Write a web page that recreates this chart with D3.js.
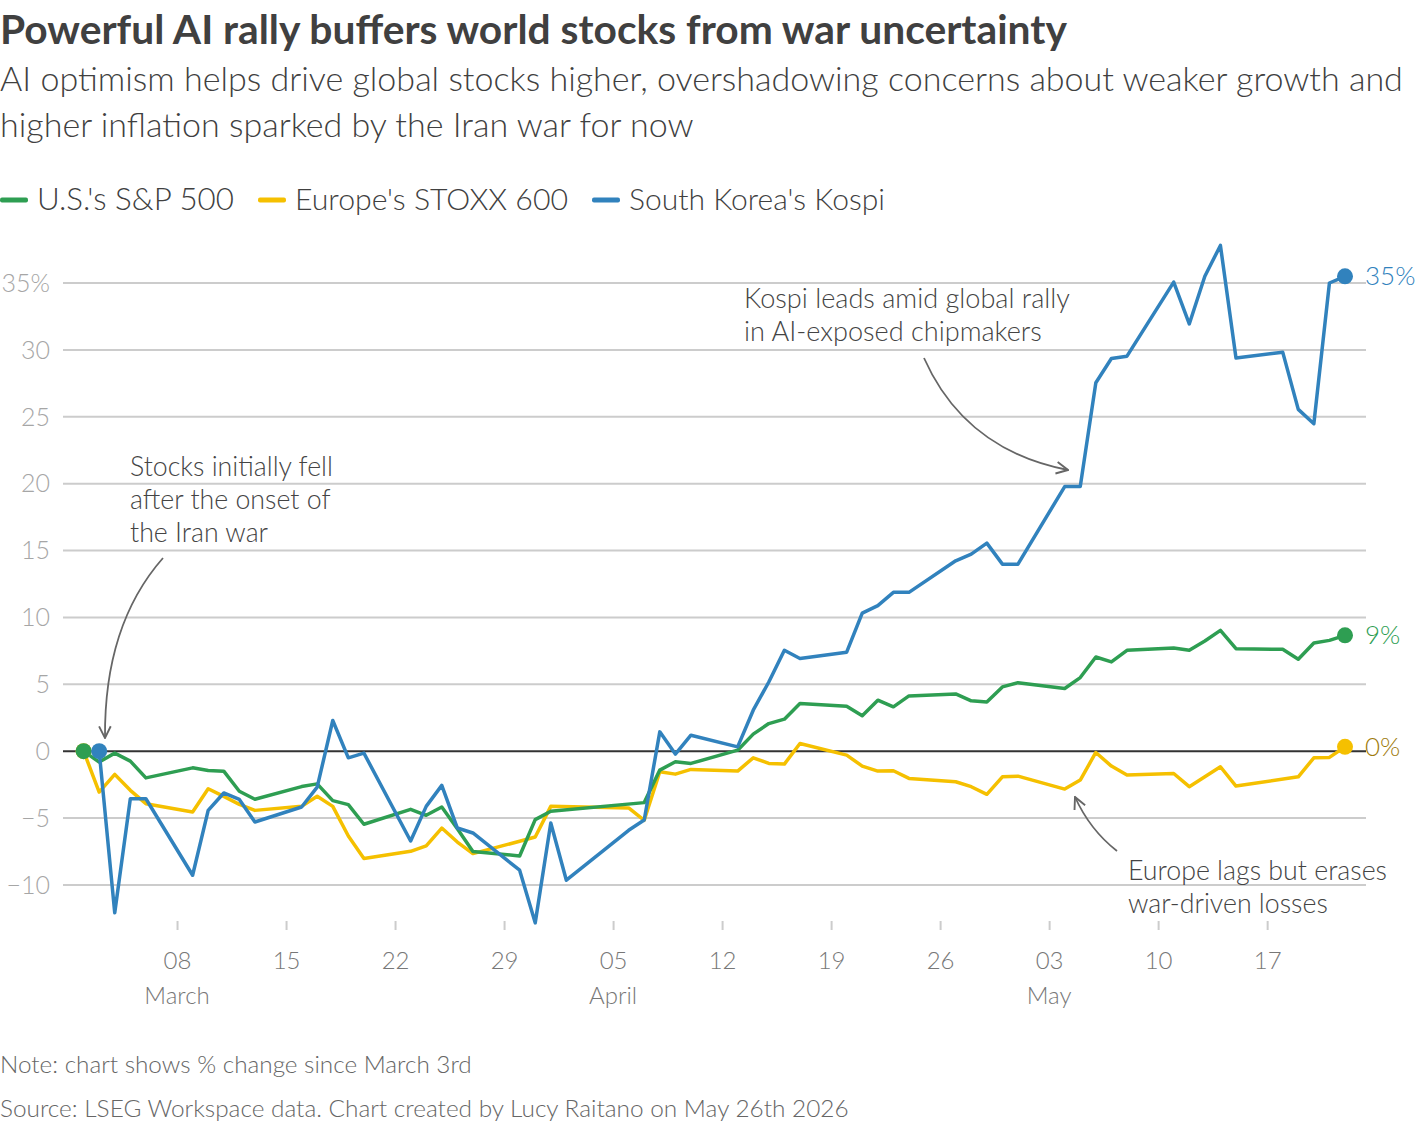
<!DOCTYPE html>
<html>
<head>
<meta charset="utf-8">
<script src="https://cdn.jsdelivr.net/npm/d3@7"></script>
<style>
  body { margin: 0; background: #fff; }
  svg text { font-family: Lato, "Open Sans", sans-serif; }
</style>
</head>
<body>
<div id="chart"></div>
<script>
// % change since start
const spxDates = ["2026-03-02","2026-03-03","2026-03-04","2026-03-05","2026-03-06","2026-03-09","2026-03-10","2026-03-11","2026-03-12","2026-03-13",
  "2026-03-16","2026-03-17","2026-03-18","2026-03-19","2026-03-20","2026-03-23","2026-03-24","2026-03-25","2026-03-26","2026-03-27",
  "2026-03-30","2026-03-31","2026-04-01","2026-04-07","2026-04-08","2026-04-09","2026-04-10","2026-04-13","2026-04-14","2026-04-15",
  "2026-04-16","2026-04-17","2026-04-20","2026-04-21","2026-04-22","2026-04-23","2026-04-24","2026-04-27","2026-04-28","2026-04-29",
  "2026-04-30","2026-05-01","2026-05-04","2026-05-05","2026-05-06","2026-05-07","2026-05-08","2026-05-11","2026-05-12","2026-05-13",
  "2026-05-14","2026-05-15","2026-05-18","2026-05-19","2026-05-20","2026-05-21","2026-05-22"];
const spxValues = [0,-0.82,-0.15,-0.75,-2.0,-1.25,-1.45,-1.5,-3.0,-3.6,
  -2.65,-2.45,-3.7,-4.0,-5.47,-4.35,-4.8,-4.18,-5.8,-7.5,
  -7.84,-5.12,-4.5,-3.85,-1.42,-0.8,-0.92,0.07,1.27,2.06,
  2.39,3.56,3.36,2.64,3.81,3.31,4.13,4.28,3.76,3.68,
  4.8,5.12,4.68,5.5,7.04,6.67,7.54,7.71,7.54,8.23,
  9.03,7.66,7.61,6.87,8.08,8.28,8.66];

const stoxxDates = ["2026-03-02","2026-03-03","2026-03-04","2026-03-05","2026-03-06","2026-03-09","2026-03-10","2026-03-11","2026-03-12","2026-03-13",
  "2026-03-16","2026-03-17","2026-03-18","2026-03-19","2026-03-20","2026-03-23","2026-03-24","2026-03-25","2026-03-26","2026-03-27",
  "2026-03-30","2026-03-31","2026-04-01","2026-04-06","2026-04-07","2026-04-08","2026-04-09","2026-04-10","2026-04-13","2026-04-14",
  "2026-04-15","2026-04-16","2026-04-17","2026-04-20","2026-04-21","2026-04-22","2026-04-23","2026-04-24","2026-04-27","2026-04-28",
  "2026-04-29","2026-04-30","2026-05-01","2026-05-04","2026-05-05","2026-05-06","2026-05-07","2026-05-08","2026-05-11","2026-05-12",
  "2026-05-14","2026-05-15","2026-05-19","2026-05-20","2026-05-21","2026-05-22"];
const stoxxValues = [0,-3.06,-1.74,-2.93,-3.93,-4.55,-2.81,-3.38,-3.98,-4.43,
  -4.13,-3.38,-4.13,-6.35,-8.03,-7.49,-7.09,-5.75,-6.8,-7.66,
  -6.74,-6.42,-4.13,-4.25,-5.17,-1.54,-1.72,-1.37,-1.49,-0.5,
  -0.92,-0.97,0.57,-0.3,-1.12,-1.49,-1.47,-2.04,-2.29,-2.66,
  -3.23,-1.92,-1.87,-2.84,-2.16,-0.1,-1.12,-1.79,-1.67,-2.66,
  -1.17,-2.61,-1.92,-0.5,-0.47,0.32];

const kospiDates = ["2026-03-03","2026-03-04","2026-03-05","2026-03-06","2026-03-09","2026-03-10","2026-03-11","2026-03-12","2026-03-13",
  "2026-03-16","2026-03-17","2026-03-18","2026-03-19","2026-03-20","2026-03-23","2026-03-24","2026-03-25","2026-03-26","2026-03-27",
  "2026-03-30","2026-03-31","2026-04-01","2026-04-02","2026-04-06","2026-04-07","2026-04-08","2026-04-09","2026-04-10","2026-04-13",
  "2026-04-14","2026-04-15","2026-04-16","2026-04-17","2026-04-20","2026-04-21","2026-04-22","2026-04-23","2026-04-24","2026-04-27",
  "2026-04-28","2026-04-29","2026-04-30","2026-05-01","2026-05-04","2026-05-05","2026-05-06","2026-05-07","2026-05-08","2026-05-11",
  "2026-05-12","2026-05-13","2026-05-14","2026-05-15","2026-05-18","2026-05-19","2026-05-20","2026-05-21","2026-05-22"];
const kospiValues = [0,-12.09,-3.56,-3.56,-9.28,-4.43,-3.13,-3.61,-5.3,
  -4.18,-2.69,2.29,-0.5,-0.15,-6.72,-4.13,-2.56,-5.75,-6.12,
  -8.9,-12.84,-5.37,-9.65,-5.92,-5.15,1.44,-0.22,1.19,0.32,
  3.06,5.17,7.54,6.93,7.4,10.32,10.88,11.87,11.87,14.23,
  14.73,15.55,13.98,13.98,19.78,19.78,27.54,29.35,29.53,35.07,
  31.94,35.5,37.81,29.4,29.83,25.55,24.48,35.0,35.5];

const seriesNames = ["U.S.'s S&P 500", "Europe's STOXX 600", "South Korea's Kospi"];
const seriesColors = ["#2e9e52", "#f5c000", "#3182bd"];
const endLabels = ["9%", "0%", "35%"];
const endLabelColors = ["#2e9e52", "#a07b0c", "#3182bd"];
const yTicks = [-10, -5, 0, 5, 10, 15, 20, 25, 30, 35];

const width = 1420;
const height = 1124;

const parse = d3.utcParse("%Y-%m-%d");
function zip(dates, values) {
    return dates.map((d, i) => ({date: parse(d), value: values[i]}));
}
const series = [zip(spxDates, spxValues), zip(stoxxDates, stoxxValues), zip(kospiDates, kospiValues)];
// stacking order: europe at the back, then US, kospi on top
const drawOrder = [1, 0, 2];

// scale a text's font size so it spans a given width
function fit(sel, w) {
    const fs = parseFloat(sel.attr("font-size"));
    const len = sel.node().getComputedTextLength();
    sel.attr("font-size", (fs * w / len).toFixed(2));
    return fs * w / len;
}

const svg = d3.select("#chart").append("svg")
    .attr("width", width)
    .attr("height", height);

// title block
fit(svg.append("text").attr("x", 0).attr("y", 44)
    .attr("font-size", 34).attr("font-weight", 700).attr("fill", "#404040")
    .text("Powerful AI rally buffers world stocks from war uncertainty"), 1067);

const subFs = fit(svg.append("text").attr("x", 0).attr("y", 91)
    .attr("font-size", 28).attr("font-weight", 300).attr("fill", "#404040")
    .text("AI optimism helps drive global stocks higher, overshadowing concerns about weaker growth and"), 1403);
svg.append("text").attr("x", 0).attr("y", 137)
    .attr("font-size", subFs).attr("font-weight", 300).attr("fill", "#404040")
    .text("higher inflation sparked by the Iran war for now");

// legend
const legendX = [0, 258, 592];
const legendW = [197, 273, 256];
seriesNames.forEach((name, i) => {
    svg.append("rect")
        .attr("x", legendX[i]).attr("y", 197.5)
        .attr("width", 28).attr("height", 5).attr("rx", 2)
        .attr("fill", seriesColors[i]);
    fit(svg.append("text")
        .attr("x", legendX[i] + 37).attr("y", 210)
        .attr("font-size", 27).attr("font-weight", 300).attr("fill", "#404040")
        .text(name), legendW[i]);
});

// scales
const x = d3.scaleUtc()
    .domain([parse("2026-03-02"), parse("2026-05-22")])
    .range([83.6, 1345]);
const y = d3.scaleLinear()
    .domain([-13, 35])
    .range([925, 283]);

// gridlines
svg.append("g")
    .selectAll("line")
    .data(yTicks)
    .join("line")
    .attr("x1", 63).attr("x2", 1366)
    .attr("y1", d => y(d)).attr("y2", d => y(d))
    .attr("stroke", d => d === 0 ? "#333" : "#ccc")
    .attr("stroke-width", 2);

svg.append("g")
    .selectAll("text")
    .data(yTicks)
    .join("text")
    .attr("x", 50).attr("y", d => y(d))
    .attr("dy", "0.35em")
    .attr("text-anchor", "end")
    .attr("font-size", 25).attr("font-weight", 300)
    .attr("fill", "#a6a6a6")
    .text(d => d === 35 ? "35%" : d3.format("d")(d));

// x axis
const xTicks = x.ticks(d3.utcSunday.every(1));
const xAxis = svg.append("g")
    .attr("transform", "translate(0,921)")
    .call(d3.axisBottom(x).tickValues(xTicks).tickSize(9).tickPadding(22)
        .tickFormat(d3.utcFormat("%d")));
xAxis.select(".domain").remove();
xAxis.selectAll(".tick line").attr("stroke", "#ccc").attr("stroke-width", 2);
xAxis.selectAll(".tick text")
    .attr("font-size", 24).attr("font-weight", 300).attr("fill", "#777")
    .attr("font-family", "Lato, 'Open Sans', sans-serif");

// month name under the first tick of each month
const monthTicks = xTicks.filter((d, i) => i === 0 || d.getUTCMonth() !== xTicks[i - 1].getUTCMonth());
svg.append("g")
    .selectAll("text")
    .data(monthTicks)
    .join("text")
    .attr("x", d => x(d)).attr("y", 1004)
    .attr("text-anchor", "middle")
    .attr("font-size", 24).attr("font-weight", 300).attr("fill", "#777")
    .text(d3.utcFormat("%B"));

// lines
const line = d3.line()
    .x(d => x(d.date))
    .y(d => y(d.value));

drawOrder.forEach(i => {
    svg.append("path")
        .attr("fill", "none")
        .attr("stroke", seriesColors[i])
        .attr("stroke-width", 3.5)
        .attr("stroke-linejoin", "round")
        .attr("d", line(series[i]));
});

// start and end dots
drawOrder.forEach(i => {
    const s = series[i];
    [s[0], s[s.length - 1]].forEach(p => {
        svg.append("circle")
            .attr("cx", x(p.date)).attr("cy", y(p.value))
            .attr("r", 8)
            .attr("fill", seriesColors[i]);
    });
    const last = s[s.length - 1];
    svg.append("text")
        .attr("x", 1365).attr("y", y(last.value))
        .attr("dy", "0.35em")
        .attr("font-size", 26).attr("font-weight", 300)
        .attr("fill", endLabelColors[i])
        .text(endLabels[i]);
});

// annotations
svg.append("defs").append("marker")
    .attr("id", "arrow")
    .attr("viewBox", "0 0 12 12")
    .attr("refX", 11).attr("refY", 6)
    .attr("markerWidth", 14).attr("markerHeight", 14)
    .attr("markerUnits", "userSpaceOnUse")
    .attr("orient", "auto")
    .append("path")
    .attr("d", "M1,1 L11,6 L1,11")
    .attr("fill", "none")
    .attr("stroke", "#666")
    .attr("stroke-width", 1.6);

function annotate(lines, tx, ty, w, arrowPath) {
    const t0 = svg.append("text")
        .attr("x", tx).attr("y", ty)
        .attr("font-size", 24).attr("font-weight", 300).attr("fill", "#444")
        .text(lines[0]);
    const fs = fit(t0, w);
    lines.slice(1).forEach((l, i) => {
        svg.append("text")
            .attr("x", tx).attr("y", ty + 33 * (i + 1))
            .attr("font-size", fs).attr("font-weight", 300).attr("fill", "#444")
            .text(l);
    });
    svg.append("path")
        .attr("d", arrowPath)
        .attr("fill", "none")
        .attr("stroke", "#666")
        .attr("stroke-width", 1.8)
        .attr("marker-end", "url(#arrow)");
}

annotate(["Stocks initially fell", "after the onset of", "the Iran war"], 130, 476, 203,
    "M163,558 Q104,625 105,738");
annotate(["Kospi leads amid global rally", "in AI-exposed chipmakers"], 744, 308, 326,
    "M924,358 Q965,450 1068,470");
annotate(["Europe lags but erases", "war-driven losses"], 1128, 880, 259,
    "M1117,851 Q1090,830 1075,797");

// footer
fit(svg.append("text").attr("x", 0).attr("y", 1073)
    .attr("font-size", 22).attr("font-weight", 300).attr("fill", "#666")
    .text("Note: chart shows % change since March 3rd"), 472);
fit(svg.append("text").attr("x", 0).attr("y", 1117)
    .attr("font-size", 22).attr("font-weight", 300).attr("fill", "#666")
    .text("Source: LSEG Workspace data. Chart created by Lucy Raitano on May 26th 2026"), 849);
</script>
</body>
</html>
